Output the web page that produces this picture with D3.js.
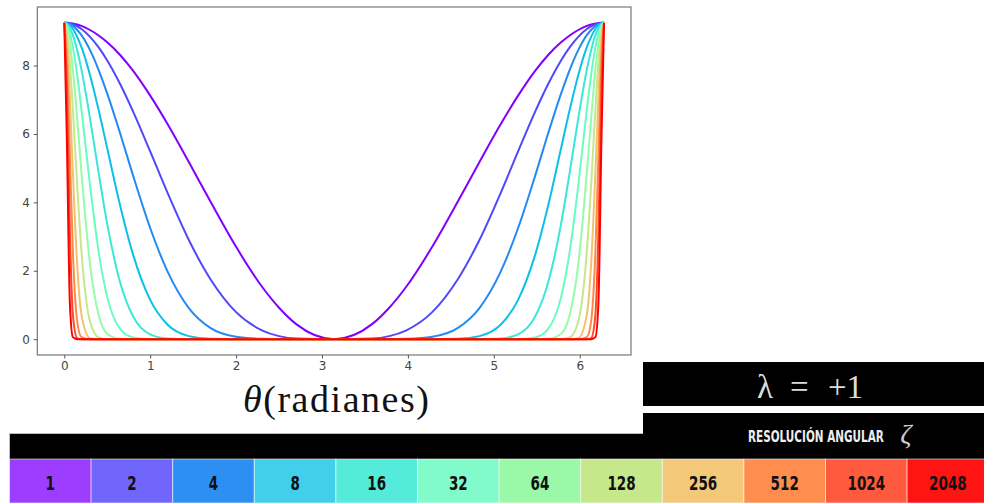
<!DOCTYPE html>
<html>
<head>
<meta charset="utf-8">
<script src="https://cdn.jsdelivr.net/npm/d3@7"></script>
<style>
  body { margin: 0; background: #fff; }
  svg { display: block; }
</style>
</head>
<body>
<svg id="chart" width="984" height="503"></svg>
<script>
// angle samples (radians), read along the x axis
const theta = [0, 0.03, 0.065, 0.1, 0.15, 0.2, 0.3, 0.4, 0.5, 0.65, 0.8, 1.0, 1.2, 1.45, 1.7, 2.0, 2.3, 2.5, 2.7, 3.1416,
  3.583, 3.783, 3.983, 4.283, 4.583, 4.833, 5.083, 5.283, 5.483, 5.633, 5.783, 5.883, 5.983, 6.083, 6.133, 6.183, 6.218, 6.253, 6.2832];

// angular resolution values, one curve each
const zetas = ["1", "2", "4", "8", "16", "32", "64", "128", "256", "512", "1024", "2048"];

// curve heights at each theta sample
const z1    = [9.25, 9.25, 9.24, 9.23, 9.20, 9.16, 9.04, 8.88, 8.68, 8.31, 7.85, 7.12, 6.30, 5.18, 4.03, 2.70, 1.54, 0.92, 0.44, 0,
               0.44, 0.92, 1.54, 2.70, 4.03, 5.18, 6.30, 7.12, 7.85, 8.31, 8.68, 8.88, 9.04, 9.16, 9.20, 9.23, 9.24, 9.25, 9.25];
const z2    = [9.25, 9.25, 9.23, 9.20, 9.15, 9.07, 8.84, 8.53, 8.15, 7.46, 6.66, 5.49, 4.29, 2.90, 1.76, 0.79, 0.26, 0.09, 0.02, 0,
               0.02, 0.09, 0.26, 0.79, 1.76, 2.90, 4.29, 5.49, 6.66, 7.46, 8.15, 8.53, 8.84, 9.07, 9.15, 9.20, 9.23, 9.25, 9.25];
const z4    = [9.25, 9.24, 9.21, 9.16, 9.04, 8.89, 8.45, 7.87, 7.18, 6.02, 4.79, 3.25, 1.99, 0.91, 0.33, 0.07, 0.01, 0, 0, 0,
               0, 0, 0.01, 0.07, 0.33, 0.91, 1.99, 3.25, 4.79, 6.02, 7.18, 7.87, 8.45, 8.89, 9.04, 9.16, 9.21, 9.24, 9.25];
const z8    = [9.25, 9.23, 9.17, 9.07, 8.84, 8.54, 7.72, 6.70, 5.58, 3.91, 2.48, 1.15, 0.43, 0.09, 0.01, 0, 0, 0, 0, 0,
               0, 0, 0, 0, 0.01, 0.09, 0.43, 1.15, 2.48, 3.91, 5.58, 6.70, 7.72, 8.54, 8.84, 9.07, 9.17, 9.23, 9.25];
const z16   = [9.25, 9.22, 9.09, 8.89, 8.45, 7.88, 6.45, 4.86, 3.37, 1.66, 0.67, 0.14, 0.02, 0, 0, 0, 0, 0, 0, 0,
               0, 0, 0, 0, 0, 0, 0.02, 0.14, 0.67, 1.66, 3.37, 4.86, 6.45, 7.88, 8.45, 8.89, 9.09, 9.22, 9.25];
const z32   = [9.25, 9.18, 8.94, 8.54, 7.73, 6.71, 4.49, 2.55, 1.23, 0.30, 0.05, 0, 0, 0, 0, 0, 0, 0, 0, 0,
               0, 0, 0, 0, 0, 0, 0, 0, 0.05, 0.30, 1.23, 2.55, 4.49, 6.71, 7.73, 8.54, 8.94, 9.18, 9.25];
const z64   = [9.25, 9.12, 8.64, 7.88, 6.45, 4.87, 2.18, 0.70, 0.16, 0.01, 0, 0, 0, 0, 0, 0, 0, 0, 0, 0,
               0, 0, 0, 0, 0, 0, 0, 0, 0, 0.01, 0.16, 0.70, 2.18, 4.87, 6.45, 7.88, 8.64, 9.12, 9.25];
const z128  = [9.25, 8.99, 8.08, 6.72, 4.50, 2.56, 0.51, 0.05, 0, 0, 0, 0, 0, 0, 0, 0, 0, 0, 0, 0,
               0, 0, 0, 0, 0, 0, 0, 0, 0, 0, 0, 0.05, 0.51, 2.56, 4.50, 6.72, 8.08, 8.99, 9.25];
const z256  = [9.25, 8.73, 7.06, 4.88, 2.19, 0.71, 0.03, 0, 0, 0, 0, 0, 0, 0, 0, 0, 0, 0, 0, 0,
               0, 0, 0, 0, 0, 0, 0, 0, 0, 0, 0, 0, 0.03, 0.71, 2.19, 4.88, 7.06, 8.73, 9.25];
const z512  = [9.25, 8.24, 5.39, 2.57, 0.52, 0.06, 0, 0, 0, 0, 0, 0, 0, 0, 0, 0, 0, 0, 0, 0,
               0, 0, 0, 0, 0, 0, 0, 0, 0, 0, 0, 0, 0, 0.06, 0.52, 2.57, 5.39, 8.24, 9.25];
const z1024 = [9.25, 7.35, 3.14, 0.72, 0.03, 0, 0, 0, 0, 0, 0, 0, 0, 0, 0, 0, 0, 0, 0, 0,
               0, 0, 0, 0, 0, 0, 0, 0, 0, 0, 0, 0, 0, 0, 0.03, 0.72, 3.14, 7.35, 9.25];
const z2048 = [9.25, 5.84, 1.06, 0.06, 0, 0, 0, 0, 0, 0, 0, 0, 0, 0, 0, 0, 0, 0, 0, 0,
               0, 0, 0, 0, 0, 0, 0, 0, 0, 0, 0, 0, 0, 0, 0, 0.06, 1.06, 5.84, 9.25];

const series = [z1, z2, z4, z8, z16, z32, z64, z128, z256, z512, z1024, z2048];

const xTicks = [0, 1, 2, 3, 4, 5, 6];
const yTicks = [0, 2, 4, 6, 8];

// rainbow colormap, curves and the lighter legend cells
const lineColors = ["#8000ff", "#5148fc", "#238af5", "#0cc1e8", "#3ae8d7", "#68fcc1",
                    "#97fca7", "#c5e88a", "#f3c16a", "#ff8a48", "#ff4824", "#ff0000"];
const cellColors = ["#9d3dff", "#7066fb", "#2e8ff3", "#42cfeb", "#55ebdb", "#82fbcb",
                    "#9bf8a8", "#c6e88a", "#f3c878", "#ff8d4d", "#ff5a3d", "#ff1414"];

const narrow = "'DejaVu Sans Condensed', sans-serif";

const svg = d3.select("#chart");

// ---- plot ----
const x = d3.scaleLinear().domain([-0.3142, 6.5973]).range([37.3, 631]);
const y = d3.scaleLinear().domain([-0.4625, 9.7125]).range([355, 7]);

const line = d3.line()
  .x((d, i) => x(theta[i]))
  .y(d => y(d))
  .curve(d3.curveMonotoneX);

const plot = svg.append("g");
plot.selectAll("path.curve")
  .data(series)
  .enter().append("path")
  .attr("class", "curve")
  .attr("d", line)
  .attr("fill", "none")
  .attr("stroke", (d, i) => lineColors[i])
  .attr("stroke-width", 2)
  .attr("stroke-linejoin", "round");

// frame
plot.append("rect")
  .attr("x", x.range()[0]).attr("y", y.range()[1])
  .attr("width", x.range()[1] - x.range()[0])
  .attr("height", y.range()[0] - y.range()[1])
  .attr("fill", "none").attr("stroke", "#777").attr("stroke-width", 1.2);

const xAxis = plot.append("g")
  .attr("transform", `translate(0,${y.range()[0]})`)
  .call(d3.axisBottom(x).tickValues(xTicks).tickFormat(d3.format("d")).tickSize(3.5).tickPadding(3));
const yAxis = plot.append("g")
  .attr("transform", `translate(${x.range()[0]},0)`)
  .call(d3.axisLeft(y).tickValues(yTicks).tickFormat(d3.format("d")).tickSize(3.5).tickPadding(4));

[xAxis, yAxis].forEach(a => {
  a.select(".domain").remove();
  a.selectAll(".tick line").attr("stroke", "#555");
  a.selectAll(".tick text")
    .attr("fill", "#444")
    .style("font-family", "DejaVu Sans")
    .style("font-size", "12px");
});

// x label
const xl = svg.append("text")
  .attr("x", 336).attr("y", 412)
  .attr("text-anchor", "middle")
  .attr("textLength", 186).attr("lengthAdjust", "spacing")
  .style("font-family", "Liberation Serif")
  .style("font-size", "38px")
  .attr("fill", "#111");
xl.append("tspan").style("font-style", "italic").text("θ");
xl.append("tspan").text("(radianes)");

// ---- lambda box ----
svg.append("rect").attr("x", 643).attr("y", 362).attr("width", 341).attr("height", 44).attr("fill", "#000");
const lam = svg.append("text")
  .attr("y", 398)
  .style("font-family", "Liberation Serif")
  .style("font-size", "33px")
  .attr("fill", "#ddd");
lam.append("tspan").attr("x", 757).text("λ");
lam.append("tspan").attr("x", 790).text("=");
lam.append("tspan").attr("x", 828).text("+1");

// ---- legend header ----
svg.append("rect").attr("x", 9.5).attr("y", 433.5).attr("width", 975).attr("height", 26)
  .attr("fill", "#000").attr("stroke", "#ccc").attr("stroke-width", 0.8);
svg.append("rect").attr("x", 643).attr("y", 413).attr("width", 341).attr("height", 47).attr("fill", "#000");

// squeeze the heading horizontally so it fits like the condensed original
const head = svg.append("text")
  .style("font-family", narrow)
  .style("font-weight", "bold")
  .style("font-size", "15px")
  .attr("fill", "#eee")
  .text("RESOLUCIÓN ANGULAR");
const headW = head.node().getComputedTextLength();
head.attr("transform", `translate(748,442) scale(${136 / headW},1)`);

svg.append("text")
  .attr("x", 906).attr("y", 443)
  .attr("text-anchor", "middle")
  .style("font-family", "Liberation Serif")
  .style("font-style", "italic")
  .style("font-size", "28px")
  .attr("fill", "#ccc")
  .text("ζ");

// ---- legend cells ----
const band = d3.scaleBand().domain(zetas).range([9.5, 9.5 + 12 * 81.6]);
const cells = svg.append("g").selectAll("g")
  .data(zetas)
  .enter().append("g")
  .attr("transform", d => `translate(${band(d)},459)`);
cells.append("rect")
  .attr("width", band.bandwidth())
  .attr("height", 44)
  .attr("fill", (d, i) => cellColors[i])
  .attr("stroke", "rgba(255,255,255,0.55)")
  .attr("stroke-width", 1);
cells.append("text")
  .attr("x", d => band.bandwidth() / 2 - d.length * 4.7)
  .attr("y", 30.5)
  .attr("textLength", d => d.length * 9.4)
  .attr("lengthAdjust", "spacingAndGlyphs")
  .style("font-family", narrow)
  .style("font-weight", "bold")
  .style("font-size", "19px")
  .attr("fill", "#111")
  .text(d => d);
</script>
</body>
</html>
